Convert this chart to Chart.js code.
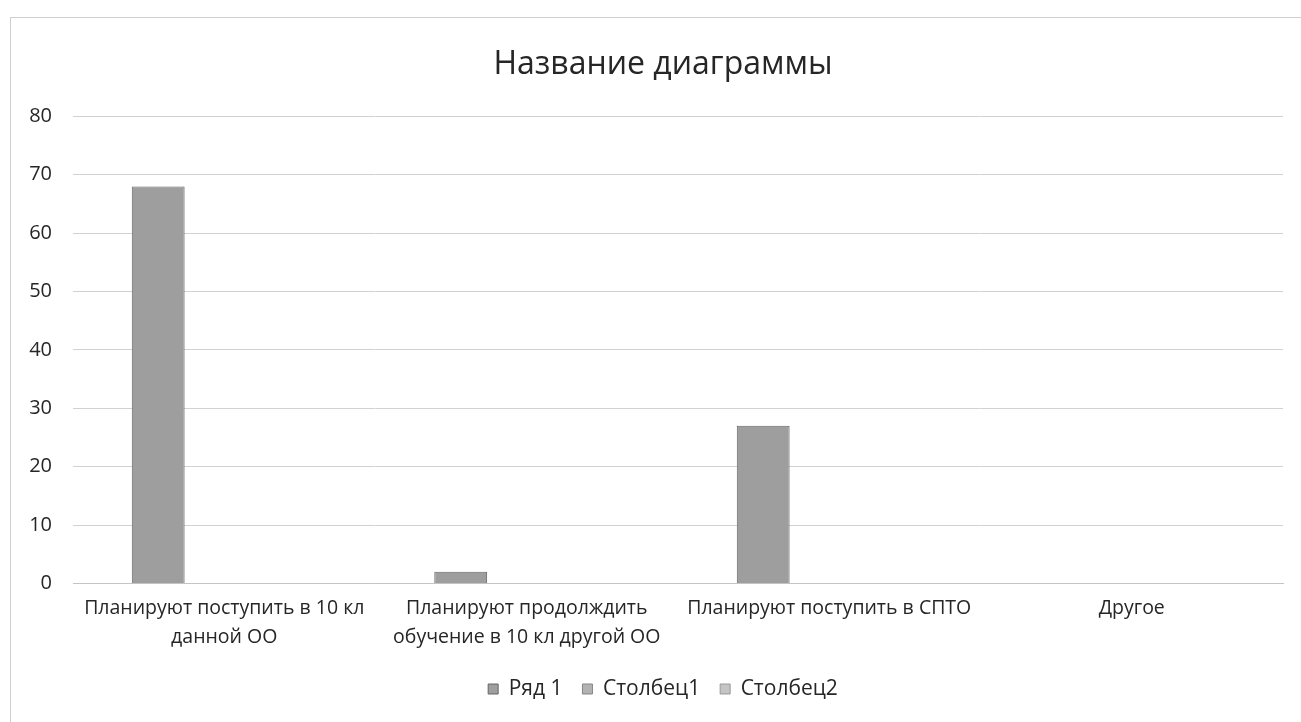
<!DOCTYPE html>
<html>
<head>
<meta charset="utf-8">
<script src="https://cdn.jsdelivr.net/npm/chart.js@4"></script>
<style>
  html, body { margin: 0; padding: 0; background: #fff; }
  #wrap { position: relative; width: 1301px; height: 722px; }
  #frame {
    position: absolute; left: 10px; top: 17px; right: 0; bottom: 0;
    border-top: 1px solid #cfcfcf; border-left: 1px solid #cfcfcf;
    pointer-events: none;
  }
</style>
</head>
<body>
<div id="wrap">
  <canvas id="chart" width="1301" height="722"></canvas>
  <div id="frame"></div>
</div>
<script>
// chart data
const TITLE = 'Название диаграммы';
const categories = [
  ['Планируют поступить в 10 кл', 'данной ОО'],
  ['Планируют продолждить', 'обучение в 10 кл другой ОО'],
  'Планируют поступить в СПТО',
  'Другое'
];
const seriesNames = ['Ряд 1', 'Столбец1', 'Столбец2'];
const row1 = [68, 2, 27, 0];
const col1 = [null, null, null, null];
const col2 = [null, null, null, null];
const yTicks = [0, 10, 20, 30, 40, 50, 60, 70, 80];

const FONT = '"Open Sans", "Noto Sans", sans-serif';
const FILLS = ['#9e9e9e', '#b2b2b2', '#c4c4c4'];
const EDGES = ['#666666', '#858585', '#999999'];

function makeDataset(i, data) {
  return {
    label: seriesNames[i],
    data: data,
    backgroundColor: FILLS[i],
    borderColor: EDGES[i],
    borderWidth: 1,
    categoryPercentage: 0.655,
    barPercentage: 0.8
  };
}

const ctx = document.getElementById('chart').getContext('2d');
new Chart(ctx, {
  type: 'bar',
  data: {
    labels: categories,
    datasets: [makeDataset(0, row1), makeDataset(1, col1), makeDataset(2, col2)]
  },
  options: {
    responsive: false,
    animation: false,
    layout: { padding: { left: 26, right: 1, top: 0, bottom: 12.5 } },
    plugins: {
      title: {
        display: true,
        text: TITLE,
        color: '#262626',
        font: { family: FONT, size: 32, weight: 'normal' },
        padding: { top: 46, bottom: 32 }
      },
      legend: {
        position: 'bottom',
        labels: {
          color: '#262626',
          font: { family: FONT, size: 21 },
          boxWidth: 10, boxHeight: 10,
          padding: 20
        }
      },
      tooltip: { enabled: false }
    },
    scales: {
      x: {
        grid: { display: false, drawTicks: false },
        border: { display: true, color: '#c4c4c4', width: 1 },
        afterFit: (scale) => { scale.paddingLeft = 0; scale.paddingRight = 0; scale.height = 75; },
        ticks: {
          color: '#262626',
          font: { family: FONT, size: 19.5, lineHeight: 1.5 },
          padding: 10,
          maxRotation: 0,
          autoSkip: false
        }
      },
      y: {
        min: yTicks[0],
        max: yTicks[yTicks.length - 1],
        afterBuildTicks: (scale) => { scale.ticks = yTicks.map(v => ({ value: v })); },
        afterFit: (scale) => { scale.width = 47; },
        grid: { color: '#d2d2d2', drawTicks: false },
        border: { display: false },
        ticks: {
          color: '#262626',
          font: { family: FONT, size: 20 },
          padding: 21
        }
      },
      // empty right-hand strip so the title and legend centre like the original
      yr: {
        type: 'linear',
        position: 'right',
        grid: { display: false, drawTicks: false },
        border: { display: false },
        ticks: { display: false },
        afterFit: (scale) => { scale.width = 17; }
      }
    }
  }
});
</script>
</body>
</html>
